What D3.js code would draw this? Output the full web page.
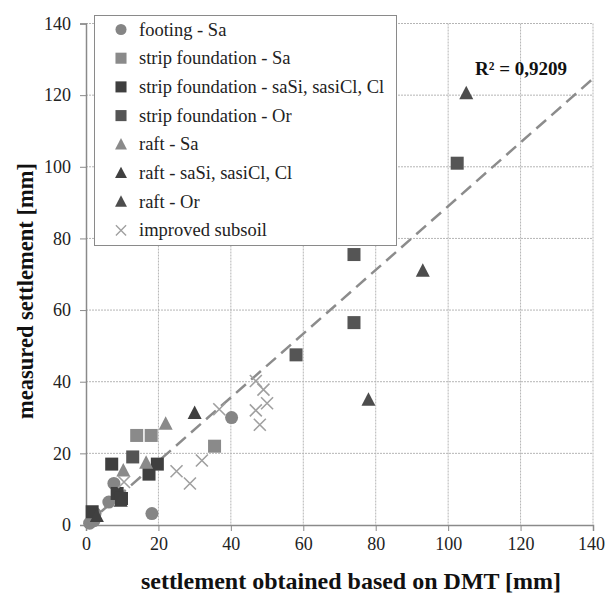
<!DOCTYPE html>
<html>
  <head>
    <meta charset="utf-8">
    <style>
      body { margin: 0; background: #fff; }
      svg text { font-family: "Liberation Serif", "Times New Roman", serif; }
    </style>
  </head>
  <body>
    <svg id="chart" width="606" height="596"></svg>
  </body>
  <script src="https://cdn.jsdelivr.net/npm/d3@7"></script>
  <script type="text/javascript">
    // tick values of both axes
    var xTicks = [0, 20, 40, 60, 80, 100, 120, 140];
    var yTicks = [0, 20, 40, 60, 80, 100, 120, 140];

    // series [x, y]
    var footingSa = [[1, 0.5], [2.2, 1.2], [2.5, 3.2], [6.3, 6.4], [7.7, 11.6], [18.2, 3.2], [40.2, 30]];
    var stripSa = [[14, 25], [18, 25], [35.5, 22]];
    var stripSaSi = [[1.7, 3.7], [7.1, 17], [8.6, 8.8], [9.8, 7.4], [17.4, 14.2], [19.7, 17]];
    var stripOr = [[12.9, 19], [58, 47.5], [74, 56.5], [74, 75.5], [102.5, 101]];
    var raftSa = [[10.3, 15.2], [16.6, 17.4], [22, 28.3]];
    var raftSaSi = [[3, 2.5], [9.6, 6.8], [30, 31.3]];
    var raftOr = [[78, 35], [93, 71], [105, 120.5]];
    var improved = [[10.5, 12], [25, 15], [28.7, 11.6], [32, 18], [36.8, 32.3], [46.9, 40.2], [49, 37.8],
                    [46.9, 32], [50, 34], [48, 28]];

    var trendSlope = 0.89;
    var r2Text = "R\u00b2 = 0,9209";

    var series = [
      { name: "footing - Sa", data: footingSa, shape: "circle", color: "#858585" },
      { name: "strip foundation - Sa", data: stripSa, shape: "square", color: "#8a8a8a" },
      { name: "strip foundation - saSi, sasiCl, Cl", data: stripSaSi, shape: "square", color: "#3f3f3f" },
      { name: "strip foundation - Or", data: stripOr, shape: "square", color: "#555555" },
      { name: "raft - Sa", data: raftSa, shape: "triangle", color: "#8a8a8a" },
      { name: "raft - saSi, sasiCl, Cl", data: raftSaSi, shape: "triangle", color: "#404040" },
      { name: "raft - Or", data: raftOr, shape: "triangle", color: "#4d4d4d" },
      { name: "improved subsoil", data: improved, shape: "cross", color: "#a0a0a0" }
    ];

    var svg = d3.select("#chart");
    var plotLeft = 86, plotRight = 593, plotTop = 23.5, plotBottom = 525;

    var x = d3.scaleLinear().domain([0, 140]).range([plotLeft, plotRight]);
    var y = d3.scaleLinear().domain([0, 140]).range([plotBottom, plotTop]);

    // grid
    var grid = svg.append("g");
    grid.selectAll("line.gx")
      .data(xTicks.slice(1))
      .enter().append("line")
      .attr("x1", function(d) { return x(d); })
      .attr("x2", function(d) { return x(d); })
      .attr("y1", plotTop).attr("y2", plotBottom)
      .attr("stroke", "#b5b5b5").attr("stroke-dasharray", "2,1");
    grid.selectAll("line.gy")
      .data(yTicks.slice(1))
      .enter().append("line")
      .attr("y1", function(d) { return y(d); })
      .attr("y2", function(d) { return y(d); })
      .attr("x1", plotLeft).attr("x2", plotRight)
      .attr("stroke", "#b5b5b5").attr("stroke-dasharray", "2,1");

    // axes
    var xAxis = svg.append("g")
      .attr("transform", "translate(0," + plotBottom + ")")
      .call(d3.axisBottom(x).tickValues(xTicks).tickSize(6).tickPadding(6));
    var yAxis = svg.append("g")
      .attr("transform", "translate(" + plotLeft + ",0)")
      .call(d3.axisLeft(y).tickValues(yTicks).tickSize(6).tickPadding(9));
    [xAxis, yAxis].forEach(function(a) {
      a.attr("font-family", null);
      a.select(".domain").attr("stroke", "#8a8a8a").attr("stroke-width", 1.5);
      a.selectAll(".tick line").attr("stroke", "#8a8a8a");
      a.selectAll(".tick text")
        .attr("fill", "#222")
        .style("font-size", "18px");
    });
    // keep the last x label inside the frame
    xAxis.selectAll(".tick text").filter(function(d) { return d === 140; }).attr("dx", "-2");

    // trend line through the origin
    svg.append("line")
      .attr("x1", x(0)).attr("y1", y(0))
      .attr("x2", x(140)).attr("y2", y(140 * trendSlope))
      .attr("stroke", "#8c8c8c")
      .attr("stroke-width", 2.5)
      .attr("stroke-dasharray", "13,7");

    function drawMarker(g, shape, color) {
      if (shape === "circle") {
        g.append("circle").attr("r", 6.5).attr("fill", color);
      } else if (shape === "square") {
        g.append("rect").attr("x", -6.5).attr("y", -6.5).attr("width", 13).attr("height", 13).attr("fill", color);
      } else if (shape === "triangle") {
        g.append("path").attr("d", "M0,-7.5L7,6L-7,6Z").attr("fill", color);
      } else {
        g.append("path").attr("d", "M-6,-6L6,6M-6,6L6,-6")
          .attr("stroke", color).attr("stroke-width", 1.6).attr("fill", "none");
      }
    }

    // points
    series.forEach(function(s) {
      var pts = svg.append("g").selectAll("g")
        .data(s.data)
        .enter().append("g")
        .attr("transform", function(d) { return "translate(" + x(d[0]) + "," + y(d[1]) + ")"; });
      pts.each(function() { drawMarker(d3.select(this), s.shape, s.color); });
    });

    // R2 label
    svg.append("text")
      .attr("x", 521).attr("y", 75)
      .attr("text-anchor", "middle")
      .attr("font-weight", "bold")
      .attr("font-size", "19px")
      .attr("fill", "#111")
      .text(r2Text);

    // legend
    var legend = svg.append("g");
    legend.append("rect")
      .attr("x", 94.5).attr("y", 15.5)
      .attr("width", 302).attr("height", 230)
      .attr("fill", "#fff")
      .attr("stroke", "#8a8a8a");
    var rows = legend.selectAll("g.row")
      .data(series)
      .enter().append("g")
      .attr("transform", function(d, i) { return "translate(121," + (29.5 + i * 28.7) + ")"; });
    rows.each(function(d) {
      var g = d3.select(this);
      drawMarker(g.append("g").attr("transform", "scale(0.85)"), d.shape, d.color);
      g.append("text")
        .attr("x", 18).attr("y", 6)
        .attr("font-size", "18.5px")
        .attr("fill", "#222")
        .text(d.name);
    });

    // axis titles
    svg.append("text")
      .attr("x", 351).attr("y", 589)
      .attr("text-anchor", "middle")
      .attr("font-weight", "bold")
      .attr("font-size", "24px")
      .attr("fill", "#111")
      .text("settlement obtained based on DMT [mm]");
    svg.append("text")
      .attr("transform", "translate(33,291) rotate(-90)")
      .attr("text-anchor", "middle")
      .attr("font-weight", "bold")
      .attr("font-size", "22.5px")
      .attr("fill", "#111")
      .text("measured settlement [mm]");
  </script>
</html>
